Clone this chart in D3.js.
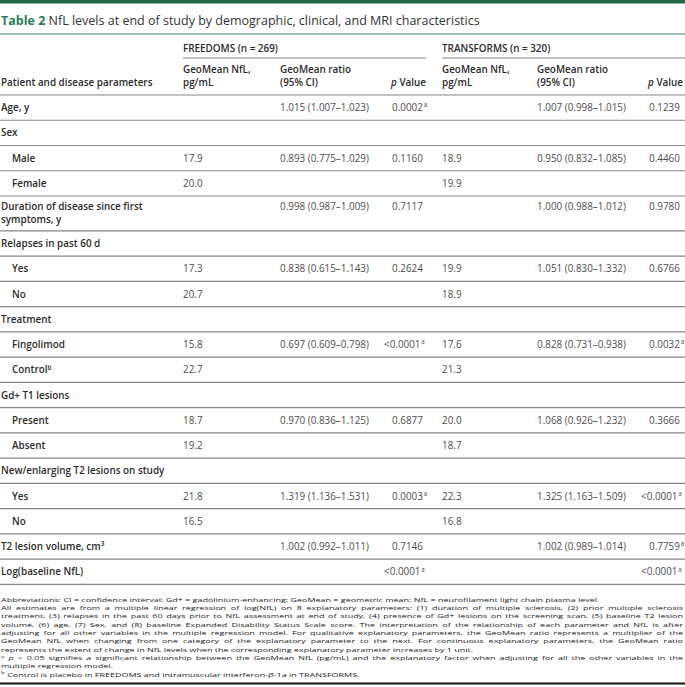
<!DOCTYPE html>
<html>
<head>
<meta charset="utf-8">
<script src="https://cdn.jsdelivr.net/npm/d3@7"></script>
<style>
    body { margin: 0; background: #fff; }
    svg { display: block; font-family: "Open Sans", sans-serif; }
</style>
</head>
<body>
<svg id="table" width="685" height="687"></svg>
<script>
// ---- table content ----
const titleLabel = 'Table 2';
const titleText = ' NfL levels at end of study by demographic, clinical, and MRI characteristics';
const studies = ['FREEDOMS (n = 269)', 'TRANSFORMS (n = 320)'];
const firstHead = 'Patient and disease parameters';
const columnHeads = [['GeoMean NfL,', 'pg/mL'], ['GeoMean ratio', '(95% CI)']];

const rowLabels = [
    ['Age, y'], ['Sex'], ['Male'], ['Female'],
    ['Duration of disease since first', 'symptoms, y'],
    ['Relapses in past 60 d'], ['Yes'], ['No'],
    ['Treatment'], ['Fingolimod'], ['Control'],
    ['Gd+ T1 lesions'], ['Present'], ['Absent'],
    ['New/enlarging T2 lesions on study'], ['Yes'], ['No'],
    ['T2 lesion volume, cm'], ['Log(baseline NfL)']
];
const rowIndent = [0, 0, 1, 1, 0, 0, 1, 1, 0, 1, 1, 0, 1, 1, 0, 1, 1, 0, 0];
const rowSup = ['', '', '', '', '', '', '', '', '', '', 'b', '', '', '', '', '', '', '3', ''];

const freedomsNfl = ['', '', '17.9', '20.0', '', '', '17.3', '20.7', '', '15.8', '22.7', '', '18.7', '19.2', '', '21.8', '16.5', '', ''];
const freedomsRatio = ['1.015 (1.007–1.023)', '', '0.893 (0.775–1.029)', '', '0.998 (0.987–1.009)', '', '0.838 (0.615–1.143)', '', '',
    '0.697 (0.609–0.798)', '', '', '0.970 (0.836–1.125)', '', '', '1.319 (1.136–1.531)', '', '1.002 (0.992–1.011)', ''];
const freedomsP = ['0.0002^a', '', '0.1160', '', '0.7117', '', '0.2624', '', '', '<0.0001^a', '', '', '0.6877', '', '',
    '0.0003^a', '', '0.7146', '<0.0001^a'];

const transformsNfl = ['', '', '18.9', '19.9', '', '', '19.9', '18.9', '', '17.6', '21.3', '', '20.0', '18.7', '', '22.3', '16.8', '', ''];
const transformsRatio = ['1.007 (0.998–1.015)', '', '0.950 (0.832–1.085)', '', '1.000 (0.988–1.012)', '', '1.051 (0.830–1.332)', '', '',
    '0.828 (0.731–0.938)', '', '', '1.068 (0.926–1.232)', '', '', '1.325 (1.163–1.509)', '', '1.002 (0.989–1.014)', ''];
const transformsP = ['0.1239', '', '0.4460', '', '0.9780', '', '0.6766', '', '', '0.0032^a', '', '', '0.3666', '', '',
    '<0.0001^a', '', '0.7759^a', '<0.0001^a'];

// footnote lines as broken in the original; true = justified line
const footLines = [
    ['Abbreviations: CI = confidence interval; Gd+ = gadolinium-enhancing; GeoMean = geometric mean; NfL = neurofilament light chain plasma level.', false],
    ['All estimates are from a multiple linear regression of log(NfL) on 8 explanatory parameters: (1) duration of multiple sclerosis, (2) prior multiple sclerosis', true],
    ['treatment, (3) relapses in the past 60 days prior to NfL assessment at end of study, (4) presence of Gd+ lesions on the screening scan, (5) baseline T2 lesion', true],
    ['volume, (6) age, (7) Sex, and (8) baseline Expanded Disability Status Scale score. The interpretation of the relationship of each parameter and NfL is after', true],
    ['adjusting for all other variables in the multiple regression model. For qualitative explanatory parameters, the GeoMean ratio represents a multiplier of the', true],
    ['GeoMean NfL when changing from one category of the explanatory parameter to the next. For continuous explanatory parameters, the GeoMean ratio', true],
    ['represents the extent of change in NfL levels when the corresponding explanatory parameter increases by 1 unit.', false],
    ['^a ~p < 0.05 signifies a significant relationship between the GeoMean NfL (pg/mL) and the explanatory factor when adjusting for all the other variables in the', true],
    ['multiple regression model.', false],
    ['^b Control is placebo in FREEDOMS and intramuscular interferon-β-1a in TRANSFORMS.', false]
];

// ---- layout ----
const W = 685;
const GREEN = '#226b4c';
const RULE = '#858585';
const LABEL_COLOR = '#2b2b2b';
const VALUE_COLOR = '#4d4d4d';
const FONT = 9.9;

const svg = d3.select('#table');

const colX = d3.scaleOrdinal()
    .domain(['label', 'fNfl', 'fRatio', 'fP', 'tNfl', 'tRatio', 'tP'])
    .range([1, 183, 280, 392, 442, 537, 649]);
const groupSpan = [[183, 426], [442, 685]];
const pRight = { f: 426, t: 683 };

const units = rowLabels.map(l => l.length === 2 ? 1.38 : 1);
const cum = Array.from(d3.cumsum(units));
const headerBottom = 95;
const rowH = 25.25;
const y = d3.scaleLinear().domain([0, 1]).range([headerBottom, headerBottom + rowH]);

// top bar and title
svg.append('rect').attr('x', 0).attr('y', 0).attr('width', W).attr('height', 3.5).attr('fill', GREEN);
const title = svg.append('text').attr('x', 1).attr('y', 25).attr('font-size', 12.5).attr('fill', '#333');
title.append('tspan').attr('font-weight', 700).attr('fill', '#2c7a56').text(titleLabel);
title.append('tspan').text(titleText);
svg.append('line').attr('x1', 0).attr('x2', W).attr('y1', 34).attr('y2', 34)
    .attr('stroke', '#7eaaa1').attr('stroke-width', 1.3);

// header
const head = svg.append('g').attr('font-size', FONT).attr('font-weight', 600).attr('fill', LABEL_COLOR);
studies.forEach((s, i) => {
    head.append('text').attr('x', groupSpan[i][0]).attr('y', 51.8).text(s);
    head.append('line').attr('x1', groupSpan[i][0]).attr('x2', groupSpan[i][1])
        .attr('y1', 58).attr('y2', 58).attr('stroke', RULE).attr('stroke-width', 1.1);
});
head.append('text').attr('x', colX('label')).attr('y', 85.5).text(firstHead);
[['fNfl', 'fRatio', pRight.f], ['tNfl', 'tRatio', pRight.t]].forEach(([nfl, ratio, right]) => {
    [nfl, ratio].forEach((col, c) => {
        const t = head.append('text').attr('y', 73);
        columnHeads[c].forEach((line, k) => {
            t.append('tspan').attr('x', colX(col)).attr('y', 73 + k * 12.5).text(line);
        });
    });
    const p = head.append('text').attr('x', right).attr('y', 85.5).attr('text-anchor', 'end');
    p.append('tspan').attr('font-style', 'italic').text('p');
    p.append('tspan').text(' Value');
});

// rules
const ruleYs = [0, ...cum].map(c => y(c));
svg.append('g').selectAll('line').data(ruleYs).join('line')
    .attr('x1', 0).attr('x2', W).attr('y1', d => d).attr('y2', d => d)
    .attr('stroke', RULE).attr('stroke-width', 1.1);

// body rows
const body = svg.append('g').attr('font-size', FONT);
rowLabels.forEach((lines, i) => {
    const top = y(cum[i] - units[i]);
    const base = lines.length === 2 ? top + 13.6 : (top + y(cum[i])) / 2 + 3.6;
    const lx = colX('label') + rowIndent[i] * 11;
    lines.forEach((t, k) => {
        const label = body.append('text').attr('x', lx).attr('y', base + k * 13.5)
            .attr('font-weight', 600).attr('fill', LABEL_COLOR).text(t);
        if (rowSup[i] && k === lines.length - 1) {
            label.append('tspan').attr('font-size', 6.4).attr('dy', -3.8).text(rowSup[i]);
        }
    });
    [['fNfl', freedomsNfl], ['fRatio', freedomsRatio], ['tNfl', transformsNfl], ['tRatio', transformsRatio]]
        .forEach(([col, arr]) => {
            if (!arr[i]) return;
            body.append('text').attr('x', colX(col)).attr('y', base).attr('fill', VALUE_COLOR).text(arr[i]);
        });
    [['fP', freedomsP], ['tP', transformsP]].forEach(([col, arr]) => {
        if (!arr[i]) return;
        const sig = arr[i].endsWith('^a');
        const core = arr[i].replace('^a', '');
        // "<" values start a little further left, as in the print
        const shift = core.startsWith('<') ? 8 : 0;
        const t = body.append('text').attr('x', colX(col) - shift).attr('y', base).attr('fill', VALUE_COLOR)
            .text(core);
        if (sig) t.append('tspan').attr('font-size', 6.2).attr('dy', -3.8).attr('dx', 0.8).text('a');
    });
});

// footnotes: short, wide glyphs like the source print
const FOOT = 6.0;
const FOOT_STRETCH = 1.5;
const tableEnd = y(cum[cum.length - 1]);
const footTop = tableEnd + 17.5;
const footStep = 8.3;
const foot = svg.append('g').attr('font-size', FOOT).attr('fill', '#222');
footLines.forEach(([line, justify], i) => {
    const t = foot.append('text')
        .attr('transform', `translate(1,${footTop + i * footStep}) scale(${FOOT_STRETCH},1)`);
    let rest = line;
    const m = rest.match(/^\^([ab]) /);
    if (m) {
        t.append('tspan').attr('font-size', 4.2).attr('dy', -2.2).text(m[1]);
        t.append('tspan').attr('dy', 2.2).text(' ');
        rest = rest.slice(3);
    }
    if (rest.startsWith('~p')) {
        t.append('tspan').attr('font-style', 'italic').text('p');
        rest = rest.slice(2);
    }
    t.append('tspan').text(rest);
    if (justify) {
        const natural = t.node().getComputedTextLength();
        const spaces = (line.match(/ /g) || []).length;
        t.attr('word-spacing', (682 / FOOT_STRETCH - natural) / spaces);
    }
});

svg.append('line').attr('x1', 0).attr('x2', W).attr('y1', 683.5).attr('y2', 683.5)
    .attr('stroke', '#111').attr('stroke-width', 2);
</script>
</body>
</html>
